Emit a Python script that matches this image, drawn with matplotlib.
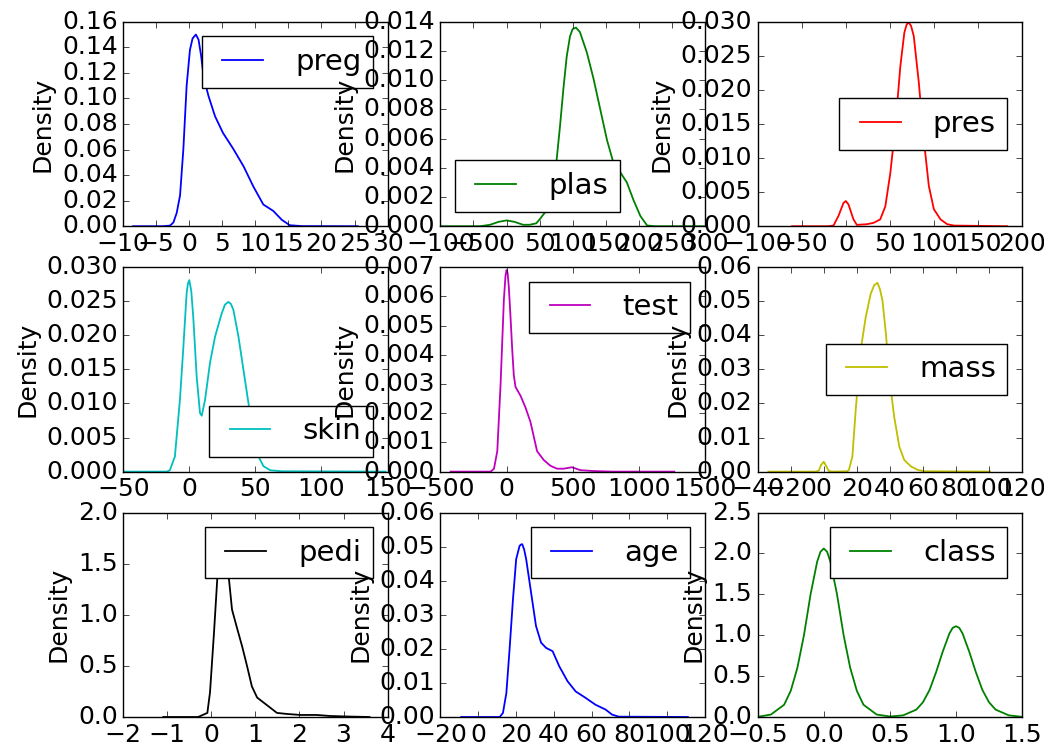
import matplotlib
matplotlib.use("Agg")
import matplotlib.pyplot as plt

# density curves (x, density) for each column
preg_x = [-8.5, -4, -2.9, -2.4, -1.9, -1.4, -0.9, -0.4, 0.1, 0.5, 1.0, 1.4, 1.8, 2.1, 2.5, 2.9, 3.9, 5.1, 6.6, 8.2, 9.7, 11.2, 12.7, 14.0, 15.2, 17, 25.5]
preg_y = [0, 0, 0.0005, 0.003, 0.0105, 0.024, 0.060, 0.110, 0.138, 0.147, 0.150, 0.146, 0.133, 0.120, 0.110, 0.102, 0.086, 0.073, 0.061, 0.047, 0.031, 0.017, 0.012, 0.005, 0.0008, 0.0001, 0]

plas_x = [-99.5, -40, -25, -12, 0, 12, 25, 35, 45, 50.6, 60.8, 70.9, 75.9, 81, 86, 91, 96, 100, 105, 111, 121.5, 131.6, 141.8, 152, 162, 172, 182, 192, 202.5, 212.7, 225, 298.5]
plas_y = [0, 0, 0.0001, 0.0003, 0.0004, 0.0003, 0.0001, 0.0001, 0.0002, 0.0005, 0.0011, 0.003, 0.0046, 0.0069, 0.0094, 0.0116, 0.0130, 0.0135, 0.0136, 0.0133, 0.0119, 0.0101, 0.0080, 0.0059, 0.0043, 0.0037, 0.0030, 0.0018, 0.0007, 0.00005, 0, 0]

pres_x = [-61, -20, -14, -8.4, -2.7, 0, 3, 8.7, 12.5, 24, 31.5, 39, 44.8, 50.5, 56.2, 61.9, 66.4, 69, 71.4, 74, 77.1, 82.8, 88.5, 94.2, 99.9, 107.5, 115, 122.6, 183]
pres_y = [0, 0, 0.0001, 0.0015, 0.0034, 0.0037, 0.0032, 0.001, 0.0002, 0.0003, 0.0005, 0.001, 0.0029, 0.0078, 0.0147, 0.0235, 0.0284, 0.0296, 0.0299, 0.0294, 0.0279, 0.0211, 0.0127, 0.0059, 0.0025, 0.001, 0.0003, 0.0001, 0]

skin_x = [-49.5, -17, -14.7, -10.9, -7.1, -4.6, -2, -1, 0, 1.5, 3, 5.6, 8.1, 9.4, 11.9, 15.7, 19.5, 24.5, 27, 29.6, 31.5, 33.4, 37.2, 41, 44.8, 48.6, 52.4, 56.1, 61.2, 70, 148.5]
skin_y = [0, 0, 0.0002, 0.0022, 0.0105, 0.0179, 0.0262, 0.0276, 0.0281, 0.0265, 0.0227, 0.0139, 0.0086, 0.0082, 0.0105, 0.016, 0.0198, 0.0232, 0.0245, 0.0249, 0.0246, 0.0237, 0.0198, 0.0149, 0.01, 0.0051, 0.0022, 0.0008, 0.0002, 0.00005, 0]

test_x = [-423, -120, -95, -70, -45, -20, -8, 0, 8, 17.6, 30, 42.7, 55, 67.8, 105.5, 143, 181, 231, 281, 332, 382, 432, 495, 558, 658, 800, 1269]
test_y = [0, 0, 0.0001, 0.0007, 0.003, 0.0059, 0.0067, 0.0069, 0.0068, 0.0063, 0.0053, 0.0042, 0.0033, 0.0029, 0.0026, 0.0022, 0.0017, 0.0007, 0.0004, 0.0002, 0.0001, 0.0001, 0.00015, 0.00005, 0.00002, 0, 0]

mass_x = [-33.5, -5, -3, -1.6, 0, 1.6, 3, 5, 14.2, 15.2, 17.3, 19.3, 22.3, 25.4, 28.4, 30.5, 32.5, 34, 35.5, 37.6, 39.6, 42.6, 45.7, 48.7, 52.8, 56.9, 60.9, 100.6]
mass_y = [0, 0, 0.0003, 0.002, 0.0029, 0.0015, 0.0002, 0, 0.0001, 0.0005, 0.0044, 0.018, 0.0356, 0.0454, 0.0522, 0.0547, 0.0554, 0.0535, 0.0502, 0.0405, 0.0278, 0.0161, 0.0073, 0.0034, 0.0015, 0.0005, 0.0001, 0]

pedi_x = [-1.09, -0.3, -0.09, -0.03, 0.06, 0.135, 0.2, 0.26, 0.33, 0.4, 0.47, 0.59, 0.7, 0.81, 0.92, 1.04, 1.19, 1.34, 1.49, 1.71, 2.02, 2.39, 2.69, 3.07, 3.59]
pedi_y = [0, 0, 0.04, 0.24, 0.82, 1.35, 1.58, 1.62, 1.55, 1.35, 1.05, 0.86, 0.69, 0.5, 0.3, 0.19, 0.14, 0.09, 0.04, 0.03, 0.02, 0.02, 0.01, 0.005, 0]

age_x = [-9, 11.4, 13.1, 14.9, 16.6, 18.4, 20.1, 21.9, 22.6, 23.3, 24.3, 25.4, 28, 30.6, 33.3, 35.9, 39.4, 42.9, 47.3, 51.6, 56.9, 62.1, 67.4, 70.9, 74.4, 111]
age_y = [0, 0, 0.0012, 0.007, 0.0198, 0.0345, 0.0463, 0.0502, 0.0506, 0.0507, 0.0492, 0.0463, 0.0365, 0.0267, 0.0218, 0.0203, 0.0193, 0.0149, 0.0105, 0.0075, 0.0056, 0.0036, 0.0022, 0.0007, 0.0001, 0]

class_x = [-0.5, -0.4, -0.3, -0.25, -0.2, -0.15, -0.1, -0.05, -0.025, 0, 0.025, 0.05, 0.1, 0.15, 0.2, 0.25, 0.3, 0.4, 0.5, 0.6, 0.7, 0.75, 0.8, 0.85, 0.9, 0.95, 0.975, 1.0, 1.025, 1.05, 1.1, 1.15, 1.2, 1.25, 1.3, 1.4, 1.5]
class_y = [0.002, 0.03, 0.15, 0.32, 0.60, 1.00, 1.50, 1.90, 2.02, 2.06, 2.02, 1.90, 1.50, 1.00, 0.60, 0.32, 0.15, 0.03, 0.006, 0.02, 0.09, 0.18, 0.33, 0.55, 0.80, 1.02, 1.09, 1.11, 1.09, 1.02, 0.80, 0.55, 0.33, 0.18, 0.09, 0.02, 0.002]

names = ["preg", "plas", "pres", "skin", "test", "mass", "pedi", "age", "class"]
curves = [(preg_x, preg_y), (plas_x, plas_y), (pres_x, pres_y),
          (skin_x, skin_y), (test_x, test_y), (mass_x, mass_y),
          (pedi_x, pedi_y), (age_x, age_y), (class_x, class_y)]
y_tops = [0.16, 0.014, 0.030, 0.030, 0.007, 0.06, 2.0, 0.06, 2.5]
colors = ["b", "g", "r", "c", "m", "y", "k", "b", "g"]
legend_locs = ["upper right", "lower left", "center right",
               "lower right", "upper right", "center right",
               "upper right", "upper right", "upper right"]

plt.style.use("classic")
plt.rcParams["font.size"] = 18

fig, axes = plt.subplots(3, 3, figsize=(10.44, 7.5), dpi=100)
fig.patch.set_facecolor("white")
fig.subplots_adjust(left=0.118, right=0.979, top=0.971, bottom=0.044, wspace=0.2, hspace=0.2)

for ax, name, (xs, ys), top, col, loc in zip(axes.flat, names, curves, y_tops, colors, legend_locs):
    ax.plot(xs, ys, color=col, label=name, linewidth=1.3)
    ax.set_ylabel("Density")
    ax.set_ylim(0, top)
    ax.legend(loc=loc, fontsize=21)

fig.savefig("out.png", dpi=100, facecolor="white")
